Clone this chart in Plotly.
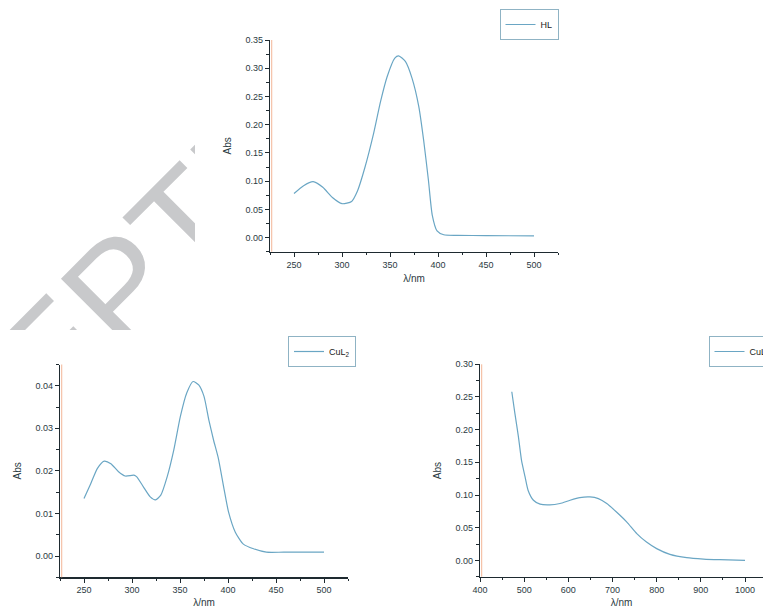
import plotly.graph_objects as go

# ---------------- data ----------------
hl_wavelength = [250, 260, 270, 280, 290, 300, 310, 316, 324, 333, 340, 347, 355, 359,
                 366, 373, 380, 385, 390, 394, 399, 406, 420, 450, 500]
hl_abs = [0.078, 0.092, 0.099, 0.089, 0.071, 0.060, 0.064, 0.082, 0.125, 0.185, 0.240,
          0.285, 0.318, 0.322, 0.312, 0.282, 0.232, 0.173, 0.102, 0.040, 0.012, 0.005,
          0.004, 0.0035, 0.003]

cul2_uv_wavelength = [250, 257, 264, 271, 278, 286, 293, 302, 305, 312, 319, 324.5, 330,
                      336.6, 343.5, 350.4, 357, 363.6, 369.5, 375, 380, 385, 390, 395.5,
                      400.6, 407.6, 416, 426.6, 440, 458, 500]
cul2_uv_abs = [0.0135, 0.0170, 0.0206, 0.0223, 0.0217, 0.0198, 0.0188, 0.0190, 0.0186,
               0.0162, 0.0139, 0.0132, 0.0143, 0.0186, 0.0249, 0.0328, 0.0383, 0.0410,
               0.0402, 0.0375, 0.0320, 0.0272, 0.0229, 0.0162, 0.0103, 0.0056, 0.0028,
               0.0017, 0.0009, 0.0009, 0.0009]

cul2_vis_wavelength = [472, 479, 487, 494, 502, 509, 521, 536, 558, 581, 604, 626, 649,
                       668, 687, 709, 732, 755, 777, 800, 830, 868, 906, 943, 1000]
cul2_vis_abs = [0.258, 0.225, 0.189, 0.153, 0.128, 0.107, 0.092, 0.086, 0.085, 0.087,
                0.092, 0.096, 0.097, 0.0945, 0.087, 0.074, 0.059, 0.041, 0.028, 0.018,
                0.0092, 0.0041, 0.002, 0.001, 0.0]

series_names = ["HL", "CuL<sub>2</sub>", "CuL<sub>2</sub>"]
x_title = "λ/nm"
y_title = "Abs"
watermark_text = "ACCEPTED MANUSCRIPT"

# ---------------- style ----------------
W, H = 763, 608
LINE = "#6aa6c4"
AX = "#1e2a30"
TXT = "#2b3a42"
ACCENT = "#f3b596"
FONT = "Liberation Sans, Arial, sans-serif"


def px_x(p):
    """window pixel (from left) -> paper fraction"""
    return p / W


def px_y(p):
    """window pixel (from top) -> paper fraction"""
    return 1 - p / H


fig = go.Figure()

# watermark subplot (xy) - empty trace to create it
fig.add_trace(go.Scatter(x=[], y=[], xaxis="x", yaxis="y", showlegend=False,
                         hoverinfo="skip"))

traces = [
    (hl_wavelength, hl_abs, "x2", "y2", "legend"),
    (cul2_uv_wavelength, cul2_uv_abs, "x3", "y3", "legend2"),
    (cul2_vis_wavelength, cul2_vis_abs, "x4", "y4", "legend3"),
]
for (xs, ys, xa, ya, lg), name in zip(traces, series_names):
    fig.add_trace(go.Scatter(x=xs, y=ys, mode="lines", name=name, xaxis=xa, yaxis=ya,
                             legend=lg, showlegend=True,
                             line=dict(color=LINE, width=1.2, shape="spline",
                                       smoothing=0.6)))


def xaxis_style(domain, rng, dtick, minor_dtick, tick0, anchor, standoff):
    return dict(domain=domain, range=rng, anchor=anchor, showline=True, linecolor=AX,
                linewidth=1.2, showgrid=False, zeroline=False, ticks="outside",
                ticklen=4, tickwidth=1, tickcolor=AX, tick0=tick0, dtick=dtick,
                tickfont=dict(size=9, color=TXT, family=FONT),
                minor=dict(ticks="outside", ticklen=2.5, tickcolor=AX, dtick=minor_dtick,
                           tick0=tick0, showgrid=False),
                title=dict(text=x_title, font=dict(size=10, color=TXT, family=FONT),
                           standoff=standoff),
                automargin=False, fixedrange=True)


def yaxis_style(domain, rng, dtick, minor_dtick, anchor, standoff):
    return dict(domain=domain, range=rng, anchor=anchor, showline=True, linecolor=AX,
                linewidth=1.2, showgrid=False, zeroline=False, ticks="outside",
                ticklen=4, tickwidth=1, tickcolor=AX, tick0=0, dtick=dtick,
                tickformat=".2f",
                tickfont=dict(size=9, color=TXT, family=FONT),
                minor=dict(ticks="outside", ticklen=2.5, tickcolor=AX, dtick=minor_dtick,
                           tick0=0, showgrid=False),
                title=dict(text=y_title, font=dict(size=10, color=TXT, family=FONT),
                           standoff=standoff),
                automargin=False, fixedrange=True)


def legend_style(x, y):
    return dict(x=px_x(x), y=px_y(y), xanchor="left", yanchor="top",
                bordercolor="#8fb3c4", borderwidth=1, bgcolor="white",
                font=dict(size=9, color="#222", family=FONT), itemwidth=30,
                tracegroupgap=0)


# bottom-right x axis: 400 at px 480, 1000 at px 745; it runs to the right edge
x4_end = 400 + (W - 480) * 600 / 265

fig.update_layout(
    width=W, height=H, margin=dict(l=0, r=0, t=0, b=0, autoexpand=False),
    paper_bgcolor="white", plot_bgcolor="rgba(0,0,0,0)", showlegend=True,
    font=dict(family=FONT, color=TXT),
    xaxis=dict(domain=[0, px_x(195)], range=[0, 195], visible=False, fixedrange=True),
    yaxis=dict(domain=[px_y(330), 1], range=[330, 0], visible=False, fixedrange=True),
    xaxis2=xaxis_style([px_x(270), px_x(558)], [225, 525], 50, 25, 250, "y2", 6),
    yaxis2=yaxis_style([px_y(251.7), px_y(40)], [-0.025, 0.35], 0.05, 0.025, "x2", 12),
    xaxis3=xaxis_style([px_x(60), px_x(348)], [225, 525], 50, 25, 250, "y3", 6),
    yaxis3=yaxis_style([px_y(577.3), px_y(364.5)], [-0.005, 0.045], 0.01, 0.005, "x3", 12),
    xaxis4=xaxis_style([px_x(480), 1.0], [400, x4_end], 100, 50, 400, "y4", 6),
    yaxis4=yaxis_style([px_y(576.7), px_y(364.3)], [-0.025, 0.30], 0.05, 0.025, "x4", 12),
    legend=legend_style(499.5, 9),
    legend2=legend_style(288, 336),
    legend3=legend_style(708.5, 336),
)

# watermark: rotated label, clipped to the free area at the left (window pixels)
wm_cx, wm_cy = 420.0, -31.0
fig.add_shape(type="rect", xref="x", yref="y", x0=wm_cx - 1, x1=wm_cx + 1,
              y0=wm_cy - 1, y1=wm_cy + 1, line=dict(width=0),
              fillcolor="rgba(0,0,0,0)", layer="below",
              label=dict(text=watermark_text, textangle=-45, textposition="middle center",
                         font=dict(size=143, color="#c8c9cb", family=FONT)))

# faint coloured fringe along the axes (scan look)
for xa, ya in (("x2", "y2"), ("x3", "y3"), ("x4", "y4")):
    fig.add_shape(type="line", xref=f"{xa} domain", yref=f"{ya} domain",
                  x0=0.006, x1=0.006, y0=0, y1=1, layer="above",
                  line=dict(color=ACCENT, width=1))

# page without the default body margin, so the 763x608 figure fills the window exactly
fig.write_html(
    "out.html",
    config={"displayModeBar": False, "staticPlot": True},
    post_script="document.body.style.margin='0';"
                "document.documentElement.style.overflow='hidden';",
)
